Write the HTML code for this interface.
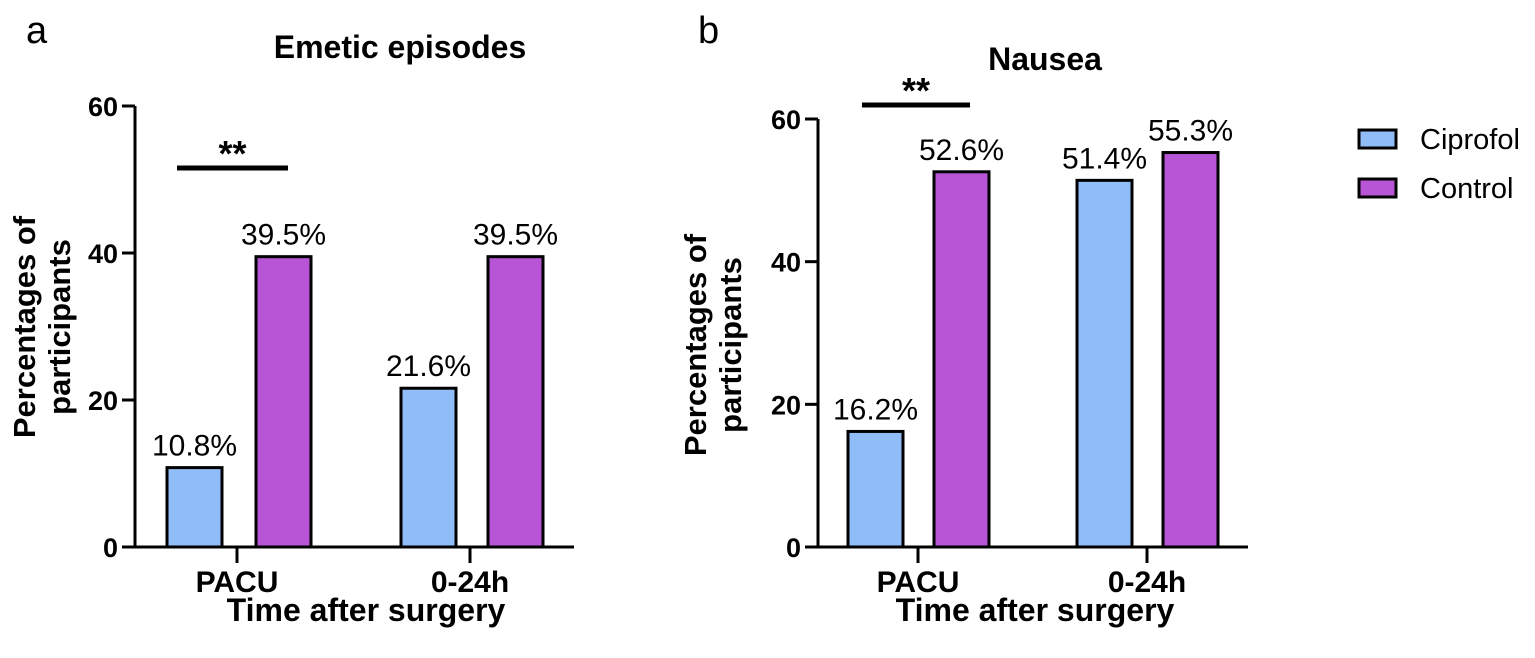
<!DOCTYPE html>
<html><head><meta charset="utf-8"><style>
body{margin:0;background:#fff;}
svg{display:block;font-family:"Liberation Sans",Arial,sans-serif;}
</style></head><body>
<svg id="chart" width="1535" height="658" viewBox="0 0 1535 658"></svg>
<script>
const categories=["PACU","0-24h"];
const seriesNames=["Ciprofol","Control"];
const emeticCiprofol=[10.8,21.6];
const emeticControl=[39.5,39.5];
const nauseaCiprofol=[16.2,51.4];
const nauseaControl=[52.6,55.3];
const yTicks=[0,20,40,60];
const colors=["#90bdf7","#b755d6"];
const NS="http://www.w3.org/2000/svg";
const svg=document.getElementById('chart');
function el(tag,attrs,parent,text){const e=document.createElementNS(NS,tag);for(const k in attrs)e.setAttribute(k,attrs[k]);if(text!==undefined)e.textContent=text;(parent||svg).appendChild(e);return e;}

const panels=[
 {id:'a',title:'Emetic episodes',vals:[emeticCiprofol,emeticControl],ax:135,axEnd:574,base:547,top60:106,
  bars:[[167,256],[401,488]],bw:55,ticks:[237,470],letterX:26,titleX:400,titleY:58,yTitleX:35,yTitleY:327,xTitleX:366,
  sig:{x1:177,x2:288,y:168}},
 {id:'b',title:'Nausea',vals:[nauseaCiprofol,nauseaControl],ax:818,axEnd:1248,base:547,top60:119,
  bars:[[848,934],[1077,1163]],bw:55,ticks:[918,1147],letterX:698,titleX:1045,titleY:70,yTitleX:706,yTitleY:345,xTitleX:1035,
  sig:{x1:862,x2:970,y:105}}
];
panels.forEach(p=>{
  const g=el('g',{});
  
  
  const y=v=>p.base-(p.base-p.top60)*v/60;
  const lt=el('text',{x:p.letterX,y:43,'font-size':38},g,p.id);
  
  const tt=el('text',{x:p.titleX,y:p.titleY,'font-size':32,'font-weight':'bold','text-anchor':'middle'},g,p.title);
  
  categories.forEach((c,ci)=>{
    [0,1].forEach(si=>{
      const v=p.vals[si][ci];const x=p.bars[ci][si];
      const r=el('rect',{x:x,y:y(v),width:p.bw,height:p.base-y(v),fill:colors[si],stroke:'#000','stroke-width':3},g);
      
      
      const t=el('text',{x:x+p.bw/2,y:y(v)-12,'font-size':30,'text-anchor':'middle'},g,v.toFixed(1)+'%');
      
      
    });
  });
  const ya=el('line',{x1:p.ax,y1:y(60),x2:p.ax,y2:p.base,stroke:'#000','stroke-width':3},g);
  
  const xa=el('line',{x1:p.ax-1.5,y1:p.base,x2:p.axEnd,y2:p.base,stroke:'#000','stroke-width':3},g);
  
  yTicks.forEach(t=>{
    el('line',{x1:p.ax-13,y1:y(t),x2:p.ax,y2:y(t),stroke:'#000','stroke-width':3},g);
    const tl=el('text',{x:p.ax-17,y:y(t)+10,'font-size':27,'font-weight':'bold','text-anchor':'end'},g,t);
    
  });
  categories.forEach((c,ci)=>{
    el('line',{x1:p.ticks[ci],y1:p.base,x2:p.ticks[ci],y2:p.base+16,stroke:'#000','stroke-width':3},g);
    const cl=el('text',{x:p.ticks[ci],y:592,'font-size':30,'font-weight':'bold','text-anchor':'middle'},g,c);
    
  });
  const xt=el('text',{x:p.xTitleX,y:621,'font-size':32,'font-weight':'bold','text-anchor':'middle'},g,'Time after surgery');
  
  const yt=el('text',{transform:`translate(${p.yTitleX},${p.yTitleY}) rotate(-90)`,'font-size':31,'font-weight':'bold','text-anchor':'middle'},g);
  
  el('tspan',{x:0,y:0},yt,'Percentages of');
  el('tspan',{x:0,y:35},yt,'participants');
  const sl=el('line',{x1:p.sig.x1,y1:p.sig.y,x2:p.sig.x2,y2:p.sig.y,stroke:'#000','stroke-width':5},g);
  
  const st=el('text',{x:(p.sig.x1+p.sig.x2)/2,y:p.sig.y-2,'font-size':36,'font-weight':'bold','text-anchor':'middle'},g,'**');
  
});
seriesNames.forEach((n,i)=>{
  const lg=el('g',{});
  
  
  el('rect',{x:1359,y:130+i*49,width:37,height:18,fill:colors[i],stroke:'#000','stroke-width':3},lg);
  el('text',{x:1420,y:149+i*49,'font-size':29},lg,n);
});
</script>
</body></html>
